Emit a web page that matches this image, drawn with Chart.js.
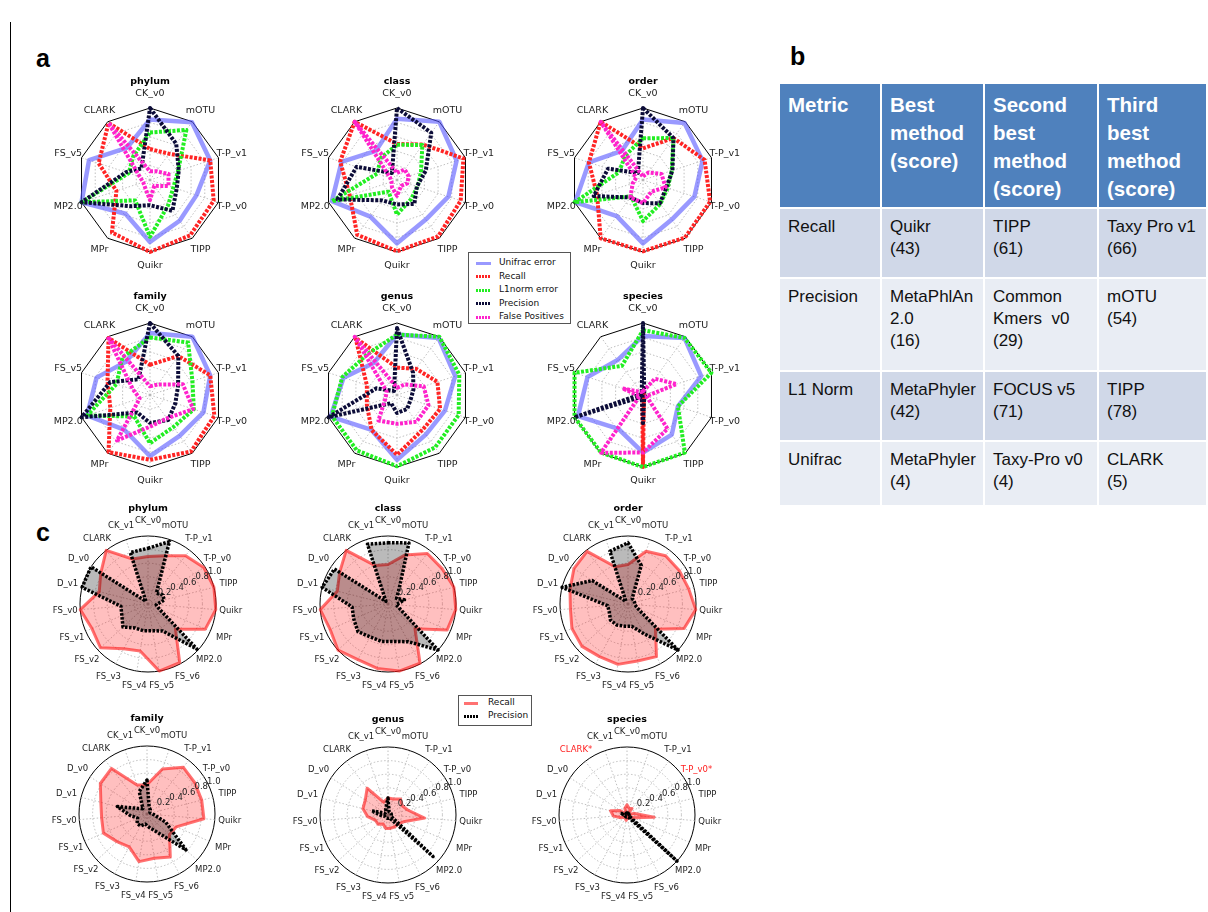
<!DOCTYPE html>
<html><head><meta charset="utf-8">
<script src="https://cdn.jsdelivr.net/npm/chart.js@4.4.0/dist/chart.umd.min.js"></script>
<style>
body{margin:0;background:#fff;width:1208px;height:912px;position:relative;overflow:hidden;font-family:"DejaVu Sans",sans-serif;}
.letter{position:absolute;font-family:"Liberation Sans",Arial,sans-serif;font-weight:bold;font-size:25px;color:#000;}
.leg{position:absolute;border:1px solid #555;background:#fff;font-size:9px;color:#111;}
.leg div{position:absolute;white-space:nowrap;}
.sw{position:absolute;height:3px;}
table{position:absolute;left:778px;top:82px;width:428px;border-collapse:collapse;font-family:"Liberation Sans",Arial,sans-serif;table-layout:fixed;}
td,th{border:2px solid #fff;vertical-align:top;text-align:left;padding:7px 4px 0 8px;white-space:nowrap;overflow:hidden;}
th{background:#4f81bd;color:#fff;font-size:20.5px;line-height:28px;font-weight:bold;}
td{font-size:17px;line-height:22px;color:#111;}
tr.o td{background:#d0d8e8;}
tr.e td{background:#e9edf4;}
.frame{position:absolute;background:#000;}
</style></head><body>
<div class="frame" style="left:10px;top:22px;width:1px;height:890px"></div>
<div class="letter" style="left:36px;top:44px">a</div>
<div class="letter" style="left:790px;top:42px">b</div>
<div class="letter" style="left:36px;top:518px">c</div>

<table>
<colgroup><col style="width:102px"><col style="width:103px"><col style="width:114px"><col style="width:109px"></colgroup>
<tr style="height:125px"><th>Metric</th><th>Best<br>method<br>(score)</th><th>Second<br>best<br>method<br>(score)</th><th>Third<br>best<br>method<br>(score)</th></tr>
<tr class="o" style="height:70px"><td>Recall</td><td>Quikr<br>(43)</td><td>TIPP<br>(61)</td><td>Taxy Pro v1<br>(66)</td></tr>
<tr class="e" style="height:93px"><td>Precision</td><td>MetaPhlAn<br>2.0<br>(16)</td><td>Common<br>Kmers&nbsp; v0<br>(29)</td><td>mOTU<br>(54)</td></tr>
<tr class="o" style="height:70px"><td>L1 Norm</td><td>MetaPhyler<br>(42)</td><td>FOCUS v5<br>(71)</td><td>TIPP<br>(78)</td></tr>
<tr class="e" style="height:65px"><td>Unifrac</td><td>MetaPhyler<br>(4)</td><td>Taxy-Pro v0<br>(4)</td><td>CLARK<br>(5)</td></tr>
</table>

<div id="legA" class="leg" style="left:468px;top:252px;width:101px;height:70px"></div>
<div id="legC" class="leg" style="left:458px;top:695px;width:72px;height:29px"></div>

<script>
// ---------- axis labels ----------
const axesA = ['CK_v0','mOTU','T-P_v1','T-P_v0','TIPP','Quikr','MPr','MP2.0','FS_v5','CLARK'];
const axesC = ['CK_v0','mOTU','T-P_v1','T-P_v0','TIPP','Quikr','MPr','MP2.0','FS_v6','FS_v5','FS_v4','FS_v3','FS_v2','FS_v1','FS_v0','D_v1','D_v0','CLARK','CK_v1'];
const axesCSpecies = ['CK_v0','mOTU','T-P_v1','T-P_v0*','TIPP','Quikr','MPr','MP2.0','FS_v6','FS_v5','FS_v4','FS_v3','FS_v2','FS_v1','FS_v0','D_v1','D_v0','CLARK*','CK_v1'];
const ranks = ['phylum','class','order','family','genus','species'];
const seriesA = ['Unifrac error','Recall','L1norm error','Precision','False Positives'];
const seriesC = ['Recall','Precision'];
const rTicks = [0.2,0.4,0.6,0.8,1.0];

// ---------- panel a values (order of axesA) ----------
const phylumUnifrac   = [0.84,0.99,0.88,0.68,0.70,0.86,0.58,1.00,0.89,0.55];
const phylumRecall    = [0.43,0.45,0.88,0.93,0.95,1.00,0.90,0.49,0.75,0.98];
const phylumL1        = [0.66,0.86,0.41,0.34,0.43,0.79,0.35,1.00,0.31,0.40];
const phylumPrecision = [1.00,0.62,0.42,0.39,0.53,0.35,0.45,1.00,0.35,0.20];
const phylumFP        = [0.12,0.15,0.27,0.27,0.10,0.28,0.12,0.10,0.15,0.98];

const classUnifrac   = [0.85,1.00,0.87,0.75,0.68,0.88,0.63,0.95,0.81,0.50];
const classRecall    = [0.50,0.61,0.97,0.93,0.97,0.99,0.94,0.69,0.83,1.00];
const classL1        = [0.49,0.60,0.35,0.30,0.33,0.48,0.20,0.95,0.29,0.38];
const classPrecision = [1.00,0.81,0.42,0.29,0.41,0.34,0.35,0.87,0.59,0.12];
const classFP        = [0.10,0.18,0.17,0.15,0.10,0.22,0.12,0.08,0.10,1.00];

const orderUnifrac   = [0.84,0.98,0.87,0.75,0.68,0.88,0.62,0.99,0.79,0.50];
const orderRecall    = [0.44,0.72,0.90,0.98,0.99,0.99,1.00,0.67,0.79,1.00];
const orderL1        = [0.58,0.72,0.42,0.36,0.41,0.57,0.28,1.00,0.35,0.42];
const orderPrecision = [1.00,0.72,0.43,0.34,0.40,0.32,0.30,0.72,0.51,0.12];
const orderFP        = [0.05,0.13,0.27,0.33,0.20,0.32,0.30,0.15,0.10,1.00];

const familyUnifrac   = [0.86,1.00,0.88,0.78,0.70,0.85,0.60,0.92,0.78,0.57];
const familyRecall    = [0.42,0.67,0.88,0.94,0.97,0.90,0.98,0.58,0.62,0.98];
const familyL1        = [0.80,0.90,0.62,0.64,0.55,0.67,0.37,0.92,0.49,0.65];
const familyPrecision = [1.00,0.67,0.41,0.37,0.43,0.39,0.30,1.00,0.58,0.27];
const familyFP        = [0.12,0.18,0.48,0.63,0.40,0.44,0.78,0.15,0.25,1.00];

const genusUnifrac   = [0.84,0.98,0.85,0.70,0.68,0.90,0.60,0.97,0.78,0.55];
const genusRecall    = [0.38,0.45,0.59,0.63,0.60,0.83,0.60,0.44,0.44,0.98];
const genusL1        = [0.84,1.00,0.91,0.90,0.90,0.99,0.95,0.95,0.80,0.70];
const genusPrecision = [0.93,0.38,0.24,0.20,0.24,0.25,0.14,1.00,0.30,0.07];
const genusFP        = [0.10,0.18,0.39,0.46,0.46,0.40,0.44,0.17,0.15,1.00];

const speciesUnifrac   = [0.82,0.98,0.85,0.51,0.68,0.80,0.58,0.95,0.81,0.60];
const speciesRecall    = [0.03,0.02,0.02,0.02,0.02,1.00,0.02,0.02,0.02,0.02];
const speciesL1        = [0.90,0.98,1.00,0.51,0.99,1.00,0.99,1.00,1.00,0.50];
const speciesPrecision = [1.00,0.03,0.03,0.03,0.03,0.39,0.03,1.00,0.03,0.03];
const speciesFP        = [0.05,0.28,0.49,0.05,0.58,0.80,0.99,0.05,0.30,0.05];

// ---------- panel c values (order of axesC) ----------
const cPhylumRecall     = [0.70,0.75,0.90,0.98,1.00,1.00,0.92,0.55,0.98,1.00,0.70,0.75,0.95,0.90,1.00,0.74,0.83,1.00,0.70];
const cPhylumPrecision  = [0.82,0.97,0.20,0.25,0.25,0.12,0.18,0.98,0.45,0.40,0.40,0.40,0.50,0.42,0.40,1.00,1.00,0.05,0.80];
const cClassRecall      = [0.58,0.76,0.94,0.95,1.00,1.00,0.95,0.54,0.99,1.00,0.96,0.93,1.00,0.93,1.00,0.77,0.85,1.00,0.60];
const cClassPrecision   = [0.90,0.95,0.26,0.15,0.25,0.12,0.20,1.00,0.63,0.56,0.56,0.55,0.60,0.55,0.53,1.00,0.94,0.05,0.93];
const cOrderRecall      = [0.58,0.82,0.90,0.90,0.92,1.00,0.90,0.55,0.88,0.85,0.90,0.88,0.92,0.90,0.85,0.88,0.95,0.98,0.58];
const cOrderPrecision   = [0.90,0.60,0.10,0.10,0.10,0.10,0.15,1.00,0.50,0.33,0.33,0.35,0.35,0.30,0.30,1.00,0.63,0.05,0.82];
const cFamilyRecall     = [0.43,0.70,0.87,0.84,0.83,0.84,0.47,0.45,0.72,0.66,0.71,0.55,0.60,0.70,0.67,0.70,0.82,0.85,0.45];
const cFamilyPrecision  = [0.50,0.10,0.08,0.05,0.05,0.10,0.30,0.78,0.30,0.20,0.15,0.20,0.20,0.15,0.25,0.45,0.15,0.10,0.35];
const cGenusRecall      = [0.25,0.25,0.30,0.25,0.30,0.54,0.25,0.20,0.20,0.20,0.20,0.15,0.20,0.20,0.30,0.38,0.40,0.50,0.20];
const cGenusPrecision   = [0.25,0.05,0.05,0.05,0.05,0.05,0.05,0.90,0.05,0.05,0.05,0.05,0.05,0.05,0.10,0.25,0.05,0.05,0.10];
const cSpeciesRecall    = [0.15,0.10,0.12,0.00,0.10,0.40,0.10,0.05,0.05,0.05,0.08,0.05,0.05,0.10,0.20,0.25,0.12,0.00,0.10];
const cSpeciesPrecision = [0.03,0.03,0.03,0.00,0.03,0.03,0.03,1.00,0.03,0.03,0.03,0.03,0.03,0.03,0.03,0.10,0.03,0.00,0.03];

// ---------- styles ----------
const aColors = ['rgba(85,85,255,0.6)','#ff2424','#22ee22','#0c0c38','#ff22cc'];
const aDash   = [[], [3,1.5], [3,1.5], [3,1.5], [3,1.5]];
const aWidth  = [4.5, 4, 4, 4, 4];

const labelPlugin = {
  id: 'lbl',
  afterDraw(chart, args, o) {
    const s = chart.scales.r, ctx = chart.ctx;
    ctx.save();
    ctx.textAlign = 'center'; ctx.textBaseline = 'middle';
    ctx.font = o.size + 'px "DejaVu Sans"';
    chart.data.labels.forEach((l, i) => {
      const p = s.getPointPosition(i, s.drawingArea + o.gap);
      ctx.fillStyle = l.endsWith('*') ? '#ff2020' : '#222';
      ctx.fillText(l, p.x, p.y);
    });
    if (o.ticks) {
      ctx.fillStyle = '#222';
      const a = o.tickAngle * Math.PI / 180;
      o.ticks.forEach(v => {
        const d = s.getDistanceFromCenterForValue(v);
        ctx.fillText(v.toFixed(1), s.xCenter + d * Math.sin(a) + 4, s.yCenter - d * Math.cos(a) - 6);
      });
    }
    ctx.font = 'bold ' + o.tsize + 'px "DejaVu Sans"';
    ctx.fillStyle = '#000';
    ctx.fillText(o.title, s.xCenter, s.yCenter - s.drawingArea - o.titleGap);
    ctx.restore();
  }
};

function makeRadar(cx, cy, R, P, labels, datasets, circular, lbl) {
  const W = 2 * (R + P);
  const cv = document.createElement('canvas');
  cv.width = W; cv.height = W;
  cv.style.cssText = 'position:absolute;left:' + (cx - W / 2) + 'px;top:' + (cy - W / 2) + 'px;width:' + W + 'px;height:' + W + 'px';
  document.body.appendChild(cv);
  const chart = new Chart(cv, {
    type: 'radar',
    data: { labels, datasets },
    options: {
      responsive: false, animation: false, devicePixelRatio: 1,
      layout: { padding: P },
      elements: { point: { radius: 0, hitRadius: 0 }, line: { tension: 0, borderJoinStyle: 'round' } },
      plugins: { legend: { display: false }, tooltip: { enabled: false }, lbl },
      scales: { r: {
        min: 0, max: 1,
        ticks: { display: false, stepSize: 0.2 },
        pointLabels: { display: false },
        grid: { circular, color: c => c.index === 5 ? '#000' : '#b0b0b0', lineWidth: c => c.index === 5 ? 1 : 0.8 },
        border: { dash: c => c.index === 5 ? [] : [1.5, 2] },
        angleLines: { color: '#b0b0b0', lineWidth: 0.8, borderDash: [1.5, 2] }
      } }
    },
    plugins: [labelPlugin]
  });
  const s = chart.scales.r;
  cv.style.left = (cx - s.xCenter) + 'px';
  cv.style.top = (cy - s.yCenter) + 'px';
  return chart;
}

// ---------- panel a ----------
const aSets = {
  phylum:  [phylumUnifrac, phylumRecall, phylumL1, phylumPrecision, phylumFP],
  class:   [classUnifrac, classRecall, classL1, classPrecision, classFP],
  order:   [orderUnifrac, orderRecall, orderL1, orderPrecision, orderFP],
  family:  [familyUnifrac, familyRecall, familyL1, familyPrecision, familyFP],
  genus:   [genusUnifrac, genusRecall, genusL1, genusPrecision, genusFP],
  species: [speciesUnifrac, speciesRecall, speciesL1, speciesPrecision, speciesFP]
};
const aCenters = [[150,180],[397,180],[643,180],[150,395],[397,395],[643,395]];
ranks.forEach((rk, k) => {
  const ds = aSets[rk].map((vals, j) => ({
    label: seriesA[j], data: vals, fill: false,
    borderColor: aColors[j], borderWidth: aWidth[j], borderDash: aDash[j],
    order: 5 - j, clip: false
  }));
  makeRadar(aCenters[k][0], aCenters[k][1], 72, 46, axesA, ds, false,
    { size: 9.5, tsize: 9.5, gap: 14, title: rk, titleGap: 26 });
});

// ---------- panel c ----------
const cSets = {
  phylum:  [cPhylumRecall, cPhylumPrecision],
  class:   [cClassRecall, cClassPrecision],
  order:   [cOrderRecall, cOrderPrecision],
  family:  [cFamilyRecall, cFamilyPrecision],
  genus:   [cGenusRecall, cGenusPrecision],
  species: [cSpeciesRecall, cSpeciesPrecision]
};
const cCenters = [[148,604],[388,604],[628,604],[147,814],[388,815],[627,815]];
ranks.forEach((rk, k) => {
  const [rec, pre] = cSets[rk];
  const ds = [
    { label: seriesC[0], data: rec, fill: true, backgroundColor: 'rgba(255,0,0,0.25)', borderColor: 'rgba(255,20,20,0.6)', borderWidth: 3, order: 2, clip: false },
    { label: seriesC[1], data: pre, fill: true, backgroundColor: 'rgba(0,0,0,0.27)', borderColor: '#000', borderWidth: 3.5, borderDash: [2.5, 1.5], order: 1, clip: false }
  ];
  makeRadar(cCenters[k][0], cCenters[k][1], 68, 46, rk === 'species' ? axesCSpecies : axesC, ds, true,
    { size: 8.5, tsize: 9.5, gap: 15, title: rk, titleGap: 27, ticks: rTicks, tickAngle: 67.5 });
});

// ---------- legends ----------
const legA = document.getElementById('legA');
seriesA.forEach((name, j) => {
  const y = 6 + j * 13.6;
  const sw = document.createElement('div');
  sw.className = 'sw';
  sw.style.cssText = 'left:7px;top:' + (y + 2.5) + 'px;width:15px;height:3px;' +
    (j === 0 ? 'background:' + aColors[0] : 'background:repeating-linear-gradient(90deg,' + aColors[j] + ' 0 2px,rgba(255,255,255,0) 2px 3px)');
  legA.appendChild(sw);
  const t = document.createElement('div');
  t.textContent = name; t.style.left = '30px'; t.style.top = (y - 2) + 'px';
  legA.appendChild(t);
});
const legC = document.getElementById('legC');
seriesC.forEach((name, j) => {
  const y = 3 + j * 13;
  const sw = document.createElement('div');
  sw.className = 'sw';
  sw.style.cssText = 'left:5px;top:' + (y + 2.5) + 'px;width:14px;height:3px;' +
    (j === 0 ? 'background:rgba(255,20,20,0.6)' : 'background:repeating-linear-gradient(90deg,#000 0 2px,rgba(255,255,255,0) 2px 3px)');
  legC.appendChild(sw);
  const t = document.createElement('div');
  t.textContent = name; t.style.left = '29px'; t.style.top = (y - 2) + 'px';
  legC.appendChild(t);
});
</script>
</body></html>
